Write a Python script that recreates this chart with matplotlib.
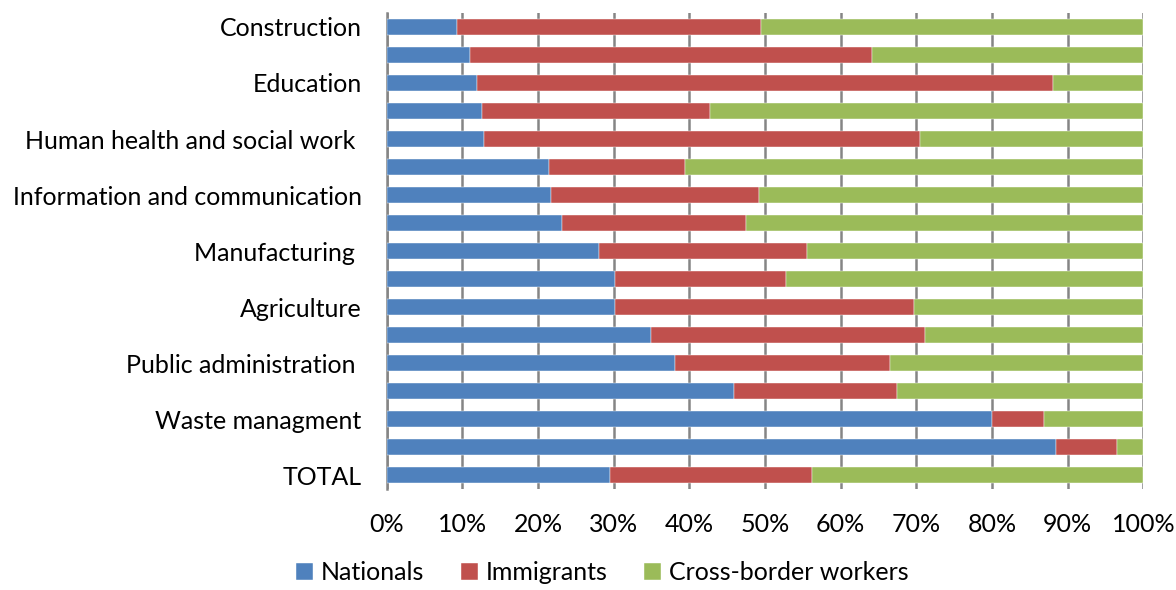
import matplotlib.pyplot as plt
import numpy as np
from matplotlib.ticker import FuncFormatter

# Shares per sector, top bar first
sectors = [
    "Construction", "", "Education", "", "Human health and social work ", "",
    "Information and communication", "", "Manufacturing ", "", "Agriculture", "",
    "Public administration ", "", "Waste managment", "", "TOTAL",
]
nationals = [9.3, 11.0, 11.9, 12.6, 12.8, 21.5, 21.7, 23.2, 28.1, 30.2,
             30.2, 34.9, 38.1, 45.9, 80.0, 88.5, 29.5]
immigrants = [40.2, 53.2, 76.2, 30.1, 57.7, 17.9, 27.5, 24.3, 27.4, 22.6,
              39.5, 36.2, 28.4, 21.5, 6.9, 8.0, 26.7]
cross_border = [100 - n - i for n, i in zip(nationals, immigrants)]

series = [
    ("Nationals", nationals, "#4F81BD"),
    ("Immigrants", immigrants, "#C0504D"),
    ("Cross-border workers", cross_border, "#9BBB59"),
]

plt.rcParams["font.family"] = ["Lato", "DejaVu Sans"]

fig = plt.figure(figsize=(11.76, 5.9), dpi=100)
ax = fig.add_axes([0.3288, 0.171, 0.6434, 0.807])

y = np.arange(len(sectors))
left = np.zeros(len(sectors))
for name, vals, color in series:
    vals = np.array(vals)
    ax.barh(y, vals, left=left, height=0.56, color=color, label=name,
            edgecolor="white", linewidth=0.3, zorder=3)
    left += vals

ax.set_xlim(0, 100)
ax.set_ylim(len(sectors) - 0.5, -0.5)
ax.set_xticks(np.arange(0, 101, 10))
ax.xaxis.set_major_formatter(FuncFormatter(lambda v, _: f"{v:.0f}%"))
ax.set_yticks(y)
ax.set_yticklabels(sectors)

ax.grid(axis="x", color="#858585", linewidth=1.8, zorder=0)
ax.tick_params(axis="x", length=0, pad=17, labelsize=18)
ax.tick_params(axis="y", length=0, pad=18, labelsize=18)
for side in ("top", "right", "bottom"):
    ax.spines[side].set_visible(False)
ax.spines["left"].set_color("#858585")
ax.spines["left"].set_linewidth(1.8)

fig.legend(loc="lower center", bbox_to_anchor=(0.512, -0.028), ncol=3,
           frameon=False, fontsize=18, handlelength=0.7, handleheight=0.7,
           handletextpad=0.3, columnspacing=1.45)

fig.savefig("out.png", dpi=100)
